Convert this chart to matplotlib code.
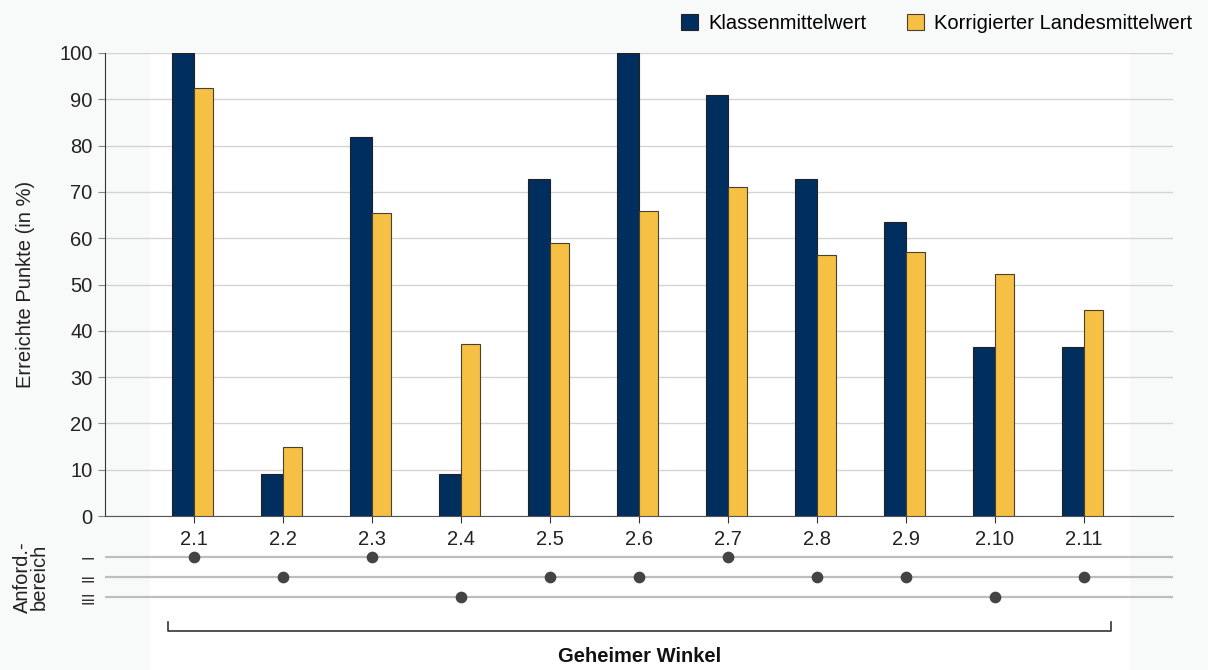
import matplotlib.pyplot as plt
from matplotlib.patches import Rectangle
import numpy as np

plt.rcParams['font.family'] = ['Liberation Sans', 'DejaVu Sans']

# Daten
aufgaben = ['2.1', '2.2', '2.3', '2.4', '2.5', '2.6', '2.7', '2.8', '2.9', '2.10', '2.11']
klasse = [100, 9.1, 81.8, 9.1, 72.7, 100, 90.9, 72.7, 63.6, 36.4, 36.4]
land = [92.5, 14.8, 65.5, 37.1, 59.0, 65.8, 71.0, 56.3, 57.1, 52.2, 44.6]
# Anforderungsbereich je Aufgabe (1 = I, 2 = II, 3 = III)
bereich = [1, 2, 1, 3, 2, 2, 1, 2, 2, 3, 2]
bereich_labels = ['I', 'II', 'III']

c_klasse = '#002f5f'
c_land = '#f5c044'
bg = '#f8f9f9'
fs = 14.5

W, H = 1208, 670
fig = plt.figure(figsize=(W / 100, H / 100), dpi=100, facecolor=bg)

# weisser Hintergrund hinter dem Diagramm
fig.patches.append(Rectangle((150 / W, 0), (1130 - 150) / W, (H - 53) / H,
                             transform=fig.transFigure, facecolor='white',
                             edgecolor='none', zorder=-10))

ax = fig.add_axes([105 / W, (H - 516) / H, (1173 - 105) / W, (516 - 53) / H])
ax.set_facecolor('none')

x = np.arange(len(aufgaben))
ax.bar(x - 0.125, klasse, width=0.25, color=c_klasse, edgecolor='#222222',
       linewidth=0.8, label='Klassenmittelwert', zorder=3)
ax.bar(x + 0.105, land, width=0.21, color=c_land, edgecolor='#4a4030',
       linewidth=0.8, label='Korrigierter Landesmittelwert', zorder=3)

ax.set_xlim(-1, len(aufgaben))
ax.set_ylim(0, 100)
ax.set_yticks(range(0, 101, 10))
ax.set_xticks(x)
ax.set_xticklabels(aufgaben)
ax.tick_params(axis='both', labelsize=fs, colors='#222222')
ax.tick_params(axis='y', length=5, color='#888888', pad=4)
ax.tick_params(axis='x', length=5, color='#333333', pad=5)
ax.grid(axis='y', color='#d4d4d4', linewidth=1, zorder=0)
for s in ['top', 'right']:
    ax.spines[s].set_visible(False)
ax.spines['left'].set_color('#333333')
ax.spines['bottom'].set_color('#555555')
ax.set_ylabel('Erreichte Punkte (in %)', fontsize=fs, color='#222222')
ax.yaxis.set_label_coords(-70 / (1173 - 105), 0.5)

leg = ax.legend(loc='lower right', bbox_to_anchor=(1.0 + 27 / 1068, 1.025), ncol=2,
                frameon=False, fontsize=fs, handlelength=0.85, handleheight=0.85,
                columnspacing=2.0, handletextpad=0.5, borderaxespad=0)

# Anforderungsbereiche
ax2 = fig.add_axes([105 / W, (H - 607) / H, (1173 - 105) / W, 60 / H])
ax2.set_facecolor('none')
ax2.set_xlim(-1, len(aufgaben))
ax2.set_ylim(60, 0)
levels = [10, 30, 50]
for lv in levels:
    ax2.axhline(lv, color='#bdbdbd', linewidth=1.6, zorder=1)
ax2.scatter(x, [levels[b - 1] for b in bereich], s=55, color='#444444', zorder=3)
ax2.set_yticks(levels)
ax2.set_yticklabels(bereich_labels, rotation=90, va='center', fontsize=11.5, color='#333333')
ax2.tick_params(axis='y', length=0, pad=6)
ax2.set_xticks([])
for s in ax2.spines.values():
    s.set_visible(False)
fig.text(31 / W, 1 - 577 / H, 'Anford.-\nbereich', rotation=90, ha='center', va='center',
         fontsize=fs, color='#222222', linespacing=0.85)

# Klammer und Titel
yb = 1 - 631 / H
yt = 1 - 622 / H
fig.add_artist(plt.Line2D([168 / W, 168 / W, 1111 / W, 1111 / W], [yt, yb, yb, yt],
                          transform=fig.transFigure, color='#333333', linewidth=1.2))
fig.text(640 / W, 1 - 656 / H, 'Geheimer Winkel', ha='center', va='center',
         fontsize=fs, fontweight='bold', color='#111111')

fig.savefig('out.png', dpi=100, facecolor=bg)
